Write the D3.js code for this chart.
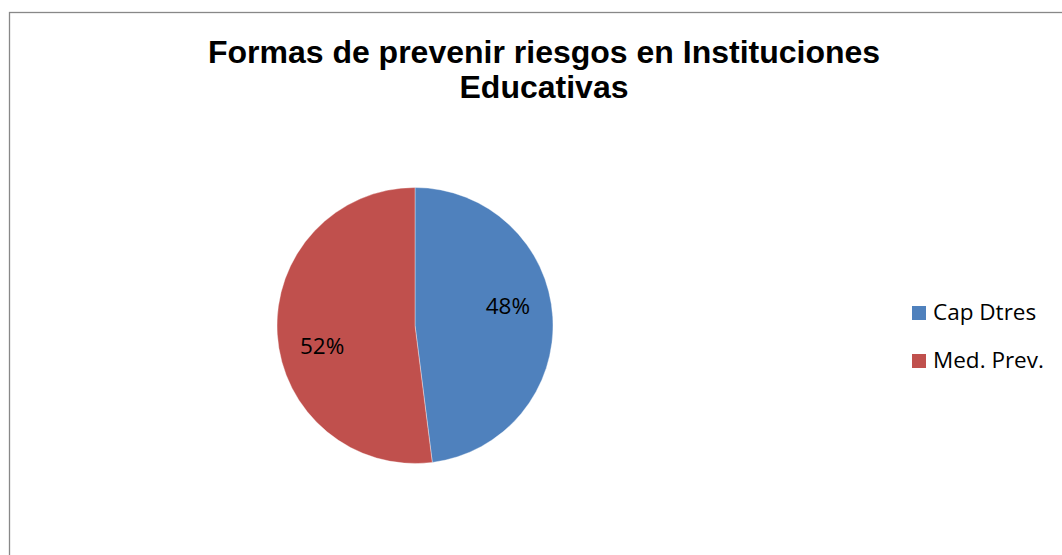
<!DOCTYPE html>
<html><head><meta charset="utf-8">
<script src="https://cdn.jsdelivr.net/npm/d3@7"></script>
<style>html,body{margin:0;padding:0;background:#fff;overflow:hidden}</style>
</head><body>
<svg id="chart" width="1062" height="555"></svg>
<script>
const titleLines = ["Formas de prevenir riesgos en Instituciones", "Educativas"];
const categories = ["Cap Dtres", "Med. Prev."];
const values = [48, 52];
const colors = ["#4F81BD", "#C0504D"];

const svg = d3.select("#chart");
svg.append("rect").attr("x", 9.5).attr("y", 12.5).attr("width", 1200).attr("height", 800)
  .attr("fill", "#fff").attr("stroke", "#888").attr("stroke-width", 1.3);

svg.append("text").attr("x", 544).attr("y", 63).attr("text-anchor", "middle")
  .attr("font-family", "Liberation Sans, Arial, sans-serif").attr("font-weight", "bold")
  .attr("font-size", 32).attr("fill", "#000")
  .selectAll("tspan").data(titleLines).join("tspan")
  .attr("x", 544).attr("dy", (d, i) => i ? 35 : 0).text(d => d);

const cx = 415, cy = 325.5, r = 138;
const pie = d3.pie().sort(null).value(d => d)(values);
const arc = d3.arc().innerRadius(0).outerRadius(r);
const g = svg.append("g").attr("transform", `translate(${cx},${cy})`);
g.selectAll("path").data(pie).join("path")
  .attr("d", arc).attr("fill", (d, i) => colors[i])
  .attr("stroke", "#fff").attr("stroke-width", 0.6).attr("stroke-opacity", 0.6);

const total = d3.sum(values);
const labelArc = d3.arc().innerRadius(95).outerRadius(95);
const shift = -0.15;
g.selectAll("text.lbl").data(pie).join("text").attr("class", "lbl")
  .attr("transform", d => {
    const c = labelArc.centroid({startAngle: d.startAngle + shift, endAngle: d.endAngle + shift});
    return `translate(${c[0]},${c[1]})`;
  })
  .attr("text-anchor", "middle").attr("dy", "0.36em")
  .attr("font-family", "Open Sans, sans-serif").attr("font-size", 22.5).attr("fill", "#000")
  .text(d => Math.round(d.data / total * 100) + "%");

const leg = svg.append("g").attr("transform", "translate(912,306)");
const items = leg.selectAll("g").data(categories).join("g")
  .attr("transform", (d, i) => `translate(0,${i * 48})`);
items.append("rect").attr("width", 14).attr("height", 14).attr("fill", (d, i) => colors[i]);
items.append("text").attr("x", 21).attr("y", 14)
  .attr("font-family", "Open Sans, sans-serif").attr("font-size", 22.5).attr("fill", "#000")
  .text(d => d);
</script>
</body></html>
